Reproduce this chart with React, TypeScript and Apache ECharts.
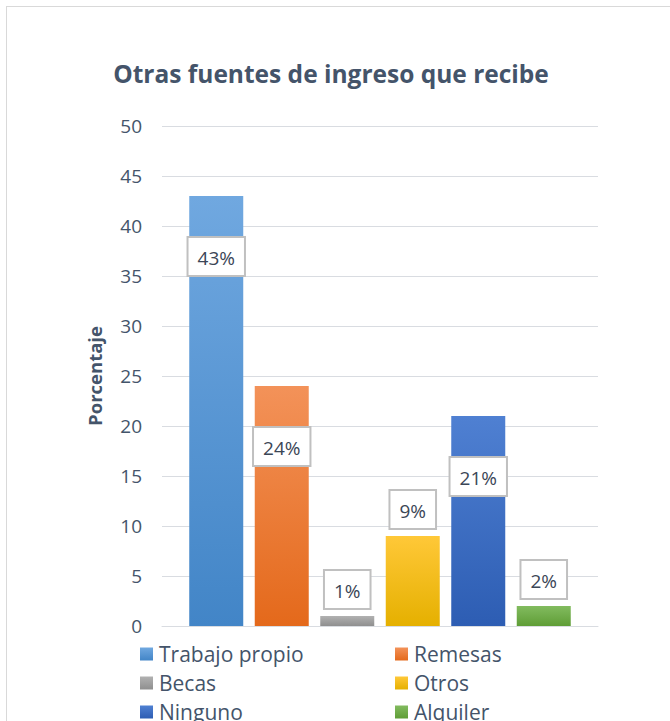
import React, { useEffect, useRef } from "react";
import * as echarts from "echarts";

const titleText = "Otras fuentes de ingreso que recibe";
const yAxisName = "Porcentaje";
const categories = ["Trabajo propio", "Remesas", "Becas", "Otros", "Ninguno", "Alquiler"];
const values = [43, 24, 1, 9, 21, 2];
const labelInside = [true, true, false, false, true, false];
const colorsTop = ["#70a8e0", "#f39259", "#b1b1b1", "#ffc838", "#4f80d2", "#82bb5f"];
const colorsBottom = ["#4285c7", "#e4691b", "#8f8f8f", "#e5b000", "#2d5db3", "#5f9d36"];
const legendCol1 = ["Trabajo propio", "Becas", "Ninguno"];
const legendCol2 = ["Remesas", "Otros", "Alquiler"];

const FONT = "Open Sans";
const TEXT = "#44546a";

export default function App() {
  const ref = useRef<HTMLDivElement>(null);
  useEffect(() => {
    if (!ref.current) return;
    const chart = echarts.init(ref.current, null, { renderer: "svg" });
    const series = categories.map((name, i) => ({
      name,
      type: "bar",
      data: [values[i]],
      barWidth: 54,
      barGap: "21.3%",
      itemStyle: {
        color: new echarts.graphic.LinearGradient(0, 0, 0, 1, [
          { offset: 0, color: colorsTop[i] },
          { offset: 1, color: colorsBottom[i] },
        ]),
      },
      label: {
        show: true,
        position: labelInside[i] ? "insideTop" : "top",
        distance: labelInside[i] ? 42 : 8,
        formatter: "{c}%",
        fontFamily: FONT,
        fontSize: 19,
        color: "#3b4656",
        backgroundColor: "#ffffff",
        borderColor: "#c0c0c0",
        borderWidth: 2,
        padding: [10, 9, 8, 9],
      },
    }));
    const legendBase = {
      orient: "vertical",
      itemWidth: 13,
      itemHeight: 13,
      itemGap: 7,
      icon: "rect",
      textStyle: { fontFamily: FONT, fontSize: 21, color: TEXT, height: 22, lineHeight: 22, padding: [0, 0, 0, 1] },
      top: 631,
      height: 120,
    };
    chart.setOption({
      animation: false,
      backgroundColor: "#ffffff",
      graphic: [
        {
          type: "text",
          x: 324,
          y: 66,
          style: {
            text: titleText,
            fontFamily: FONT,
            fontWeight: "bold",
            fontSize: 24.5,
            fill: TEXT,
            textAlign: "center",
            textVerticalAlign: "middle",
          },
        },
      ],
      legend: [
        { ...legendBase, left: 128, data: legendCol1 },
        { ...legendBase, left: 383, data: legendCol2 },
      ],
      grid: { left: 155, top: 119, width: 436, height: 500, containLabel: false },
      xAxis: {
        type: "category",
        data: [""],
        axisLine: { show: true, lineStyle: { color: "#d9dce1", width: 1 } },
        axisTick: { show: false },
        axisLabel: { show: false },
      },
      yAxis: {
        type: "value",
        min: 0,
        max: 50,
        interval: 5,
        name: yAxisName,
        nameLocation: "middle",
        nameGap: 58,
        nameTextStyle: { fontFamily: FONT, fontWeight: "bold", fontSize: 18.5, color: TEXT },
        axisLine: { show: false },
        axisTick: { show: false },
        axisLabel: { fontFamily: FONT, fontSize: 19, color: TEXT, margin: 20 },
        splitLine: { lineStyle: { color: "#d9dce1", width: 1 } },
      },
      series,
    });
    return () => chart.dispose();
  }, []);
  return (
    <div
      style={{
        position: "absolute",
        left: 6,
        top: 6,
        width: 664,
        height: 715,
        borderLeft: "1px solid #d9d9d9",
        borderTop: "1px solid #d9d9d9",
        overflow: "hidden",
      }}
    >
      <div ref={ref} style={{ width: 664, height: 780 }} />
    </div>
  );
}
